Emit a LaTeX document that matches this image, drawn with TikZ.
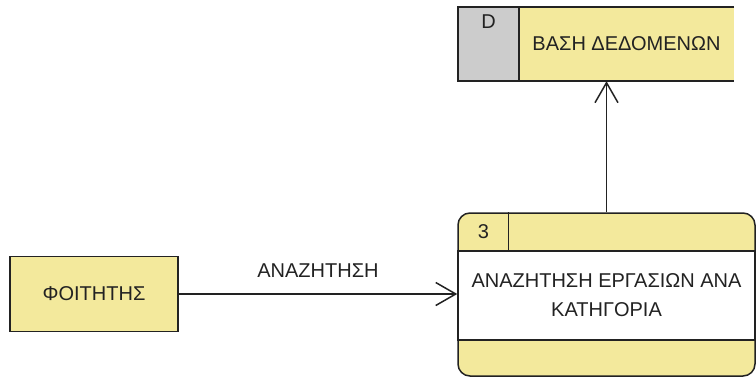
\documentclass[tikz,border=0pt]{standalone}
\usepackage{fontspec}
\setmainfont{Liberation Sans}
\usetikzlibrary{arrows.meta,positioning}
\definecolor{dfdyellow}{HTML}{F3E99C}
\definecolor{dfdgrey}{HTML}{CCCCCC}
\definecolor{dfdline}{HTML}{222222}

\begin{document}
\begin{tikzpicture}[
  x=1pt, y=-1pt,
  font=\fontsize{20}{29}\selectfont, text=dfdline,
  entity/.style={draw=dfdline, fill=dfdyellow, minimum width=168pt, minimum height=75pt, line width=1.5pt},
  proc/.style={draw=dfdline, fill=dfdyellow, rounded corners=12pt, minimum width=297pt, minimum height=163pt, line width=1.5pt},
  procbody/.style={draw=dfdline, fill=white, minimum width=297pt, minimum height=89pt, line width=1.5pt, align=center},
  storeid/.style={fill=dfdgrey, minimum width=61pt, minimum height=74pt},
  storename/.style={fill=dfdyellow, minimum width=215pt, minimum height=74pt},
  flow/.style={-{Straight Barb[length=20pt, width=23pt, line width=1.5pt]}, draw=dfdline, line width=1.5pt}
]
\clip (0,0) rectangle (756,378);
% external entity
\node[entity] (stud) at (94,294) {ΦΟΙΤΗΤΗΣ};
% process 3
\node[proc] (srch) at (606.5,294.5) {};
\node[procbody] (srchtxt) at (606.5,295.5) {ΑΝΑΖΗΤΗΣΗ ΕΡΓΑΣΙΩΝ ΑΝΑ\\ΚΑΤΗΓΟΡΙΑ};
\draw[dfdline, line width=1.5pt] ([xshift=51pt]srch.north west) -- ([xshift=51pt]srch.north west |- srchtxt.north);
\node (srchid) at (483.5,232) {3};
% data store
\node[storeid] (dbid) at (488.5,44) {};
\node[below=4pt of dbid.north] (dbkey) {D};
\node[storename] (db) at (626.5,44) {ΒΑΣΗ ΔΕΔΟΜΕΝΩΝ};
\draw[dfdline, line width=1.5pt] (db.north east) -- (dbid.north west) -- (dbid.south west) -- (db.south east);
\draw[dfdline, line width=1.5pt] (dbid.north east) -- (dbid.south east);
% flows
\draw[flow] (stud.east) -- (stud.east -| srch.west) node[midway, above=12pt] {ΑΝΑΖΗΤΗΣΗ};
\draw[flow] (srch.north) -- (srch.north |- db.south);
\end{tikzpicture}
\end{document}
